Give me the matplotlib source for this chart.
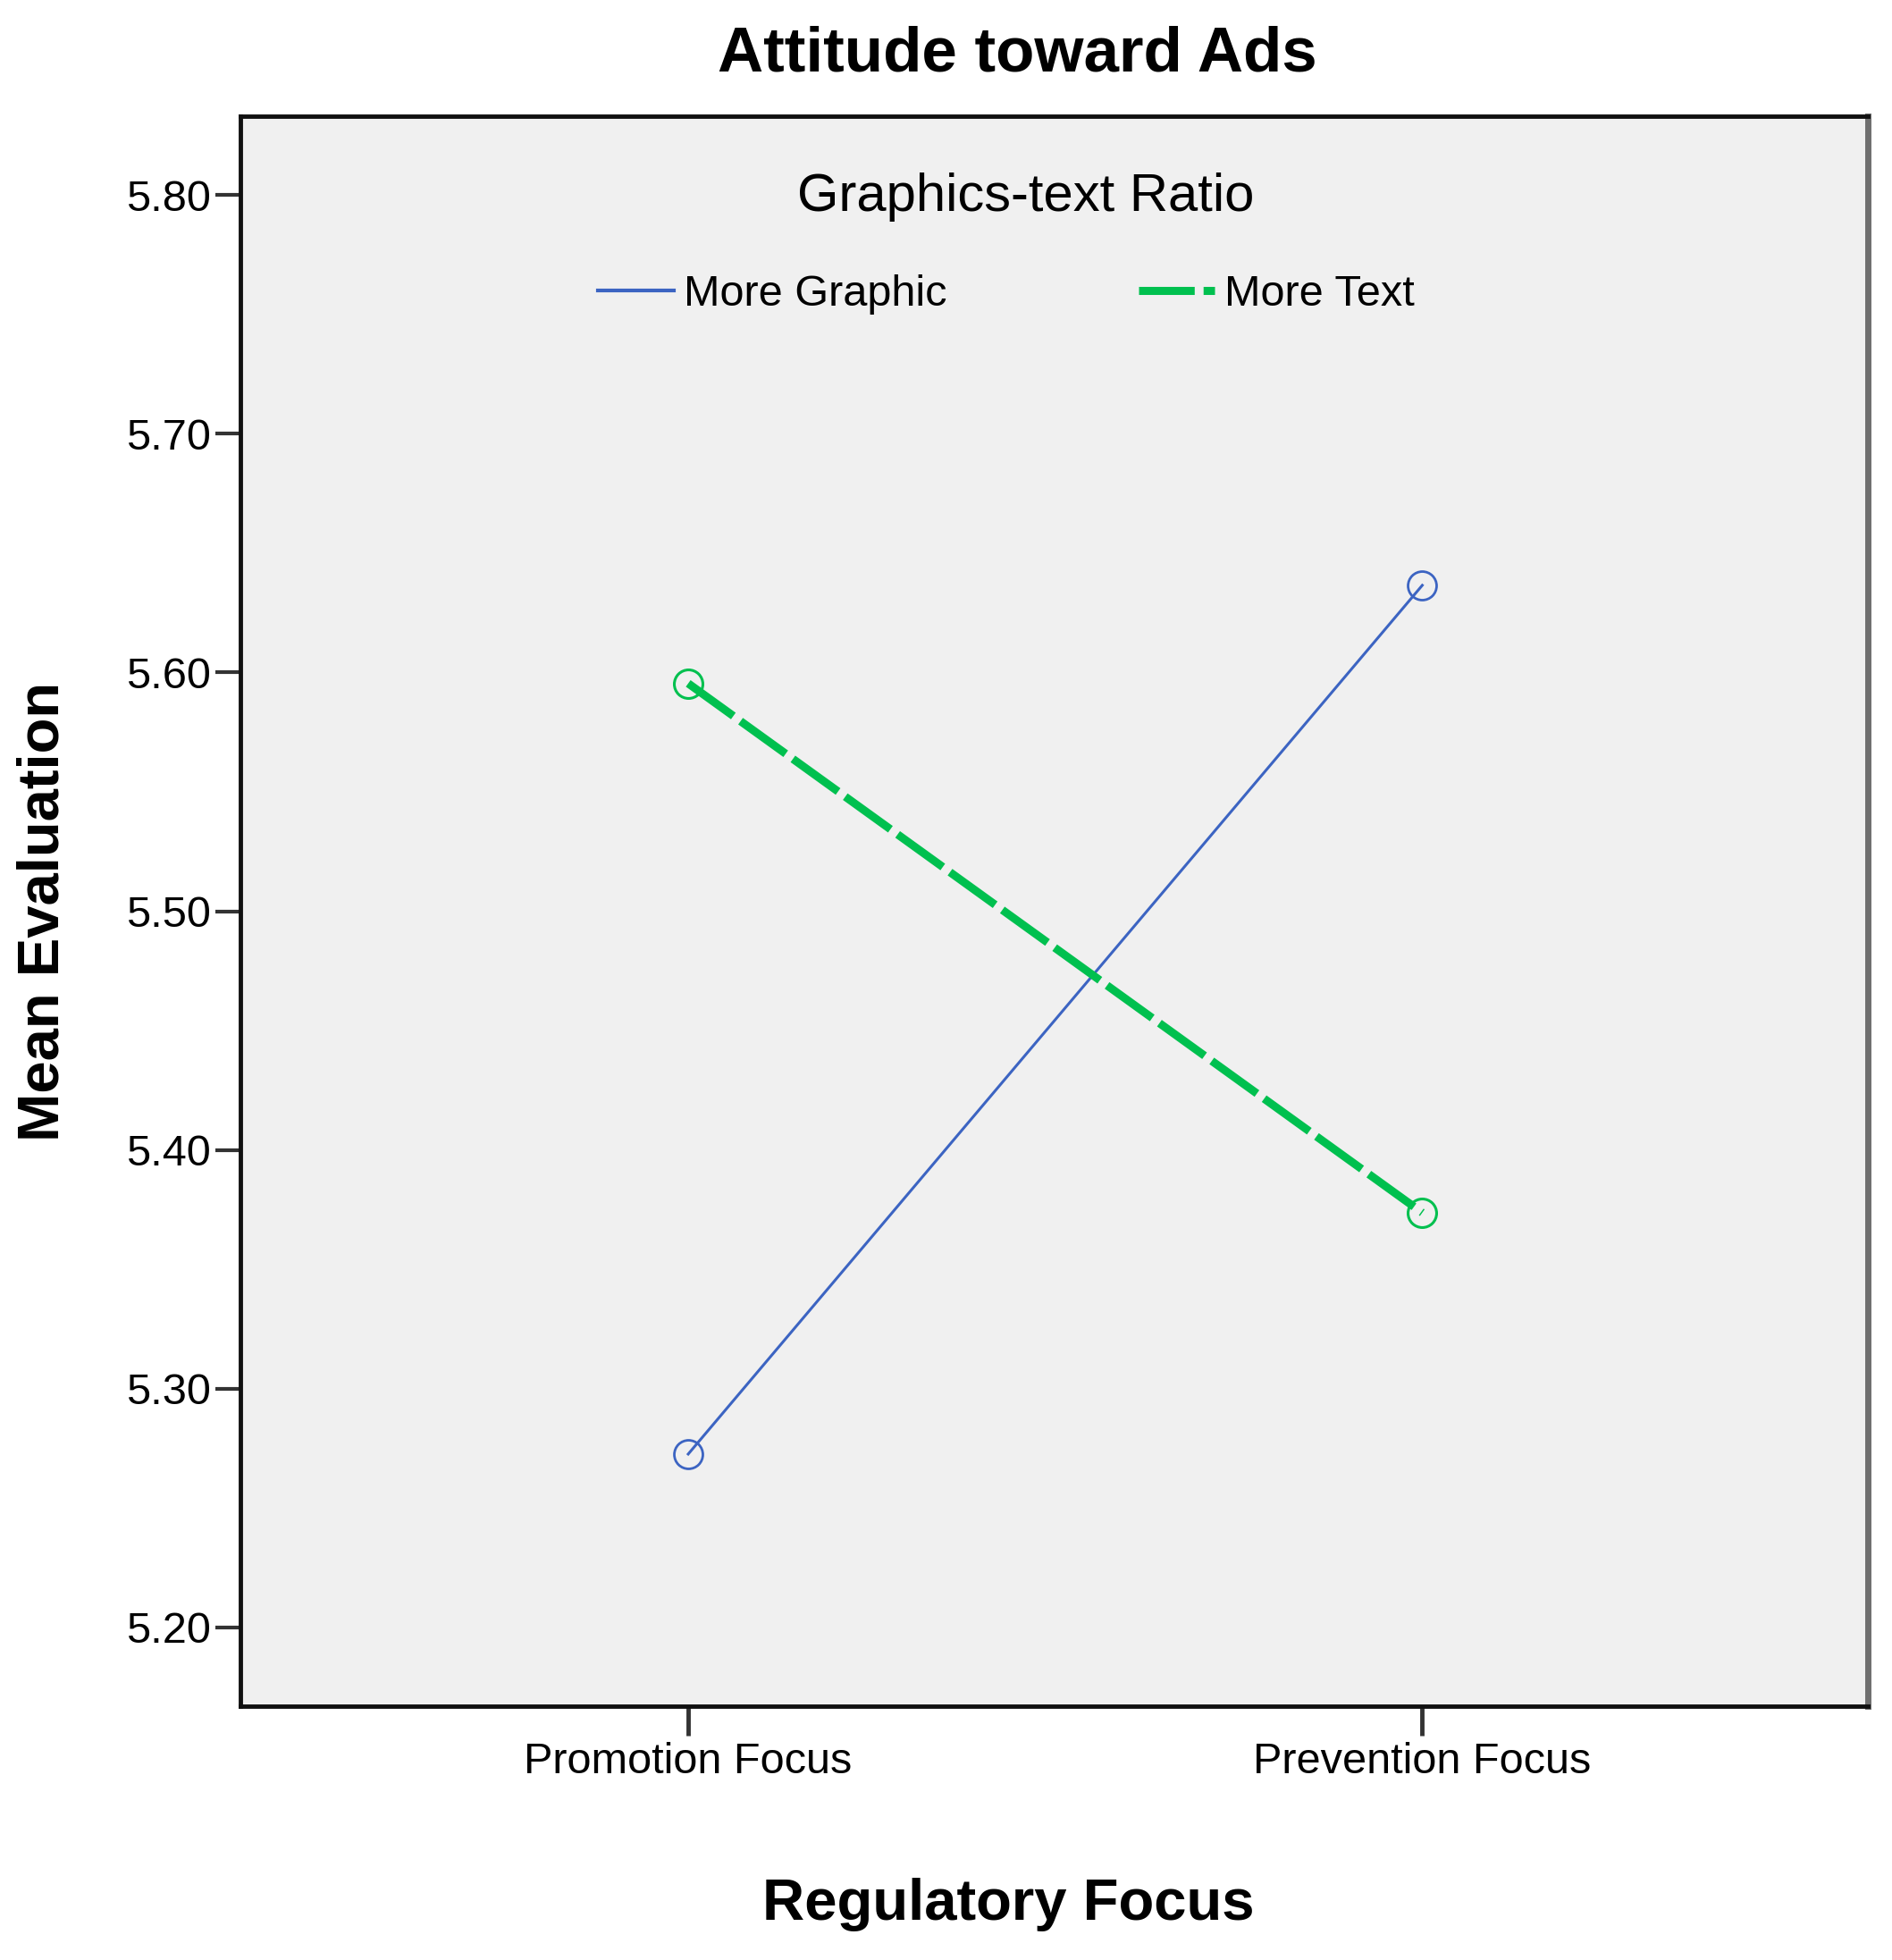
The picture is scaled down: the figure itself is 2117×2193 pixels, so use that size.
import matplotlib
matplotlib.use("Agg")
import matplotlib.pyplot as plt
from matplotlib.lines import Line2D

# Data
categories = ["Promotion Focus", "Prevention Focus"]
series_names = ["More Graphic", "More Text"]
more_graphic = [5.2726, 5.6365]
more_text = [5.5954, 5.3737]
yticks = [5.20, 5.30, 5.40, 5.50, 5.60, 5.70, 5.80]
ytick_labels = ["5.20", "5.30", "5.40", "5.50", "5.60", "5.70", "5.80"]

plt.rcParams['font.family'] = ['Liberation Sans', 'DejaVu Sans']

W, H = 2117, 2193
fig = plt.figure(figsize=(W / 100, H / 100), dpi=100)
fig.patch.set_facecolor('white')
ax = fig.add_axes([269 / W, 1 - 1909 / H, (2090 - 269) / W, (1909 - 130) / H])
ax.set_facecolor('#f0f0f0')

x = list(range(len(categories)))
blue = '#3c64c2'
green = '#00c04f'

green_dashes = [6.9, 1.1]

ax.plot(x, more_graphic, color=blue, lw=2.2, marker='o', markersize=23,
        markerfacecolor='none', markeredgecolor=blue, markeredgewidth=2.0,
        label=series_names[0], zorder=3)
l2, = ax.plot(x, more_text, color=green, lw=6.5, marker='o', markersize=23,
              markerfacecolor='none', markeredgecolor=green, markeredgewidth=2.2,
              label=series_names[1], zorder=3)
l2.set_dashes(green_dashes)

ax.set_xlim(-0.61, 1.607)
ax.set_ylim(5.167, 5.833)
ax.set_yticks(yticks)
ax.set_yticklabels(ytick_labels)
ax.set_xticks(x)
ax.set_xticklabels(categories)

ax.tick_params(axis='y', length=20, width=3, color='#333333', labelsize=35, pad=4)
ax.tick_params(axis='x', length=24, width=3.5, color='#333333', labelsize=35, pad=5)

for side in ['left', 'bottom', 'top']:
    ax.spines[side].set_linewidth(3.5)
    ax.spines[side].set_color('#111111')
ax.spines['right'].set_linewidth(5)
ax.spines['right'].set_color('#6f6f6f')

ax.set_ylabel("Mean Evaluation", fontsize=47, fontweight='bold', va='center')
ax.yaxis.set_label_coords((49 - 269) / (2090 - 269), 0.5)
ax.set_xlabel("Regulatory Focus", fontsize=47, fontweight='bold', va='center')
ax.xaxis.set_label_coords((1128 - 269) / (2090 - 269), (1909 - 2131) / (1909 - 130))

fig.text(1138 / W, 1 - 61 / H, "Attitude toward Ads", fontsize=51, fontweight='bold',
         ha='center', va='center')

ax.text((1148 - 269) / (2090 - 269), (1909 - 221) / (1909 - 130), "Graphics-text Ratio",
        transform=ax.transAxes, fontsize=43, ha='center', va='center')

h1 = Line2D([], [], color=blue, lw=3)
h2 = Line2D([], [], color=green, lw=6.5, dashes=green_dashes)
ax.legend([h1, h2], series_names, loc='center', ncol=2, frameon=False,
          bbox_to_anchor=((1126 - 269) / (2090 - 269), (1909 - 330) / (1909 - 130)),
          fontsize=35, handlelength=1.75, handletextpad=0.23, columnspacing=4.4,
          borderpad=0, borderaxespad=0)

fig.savefig("out.png", dpi=100)
